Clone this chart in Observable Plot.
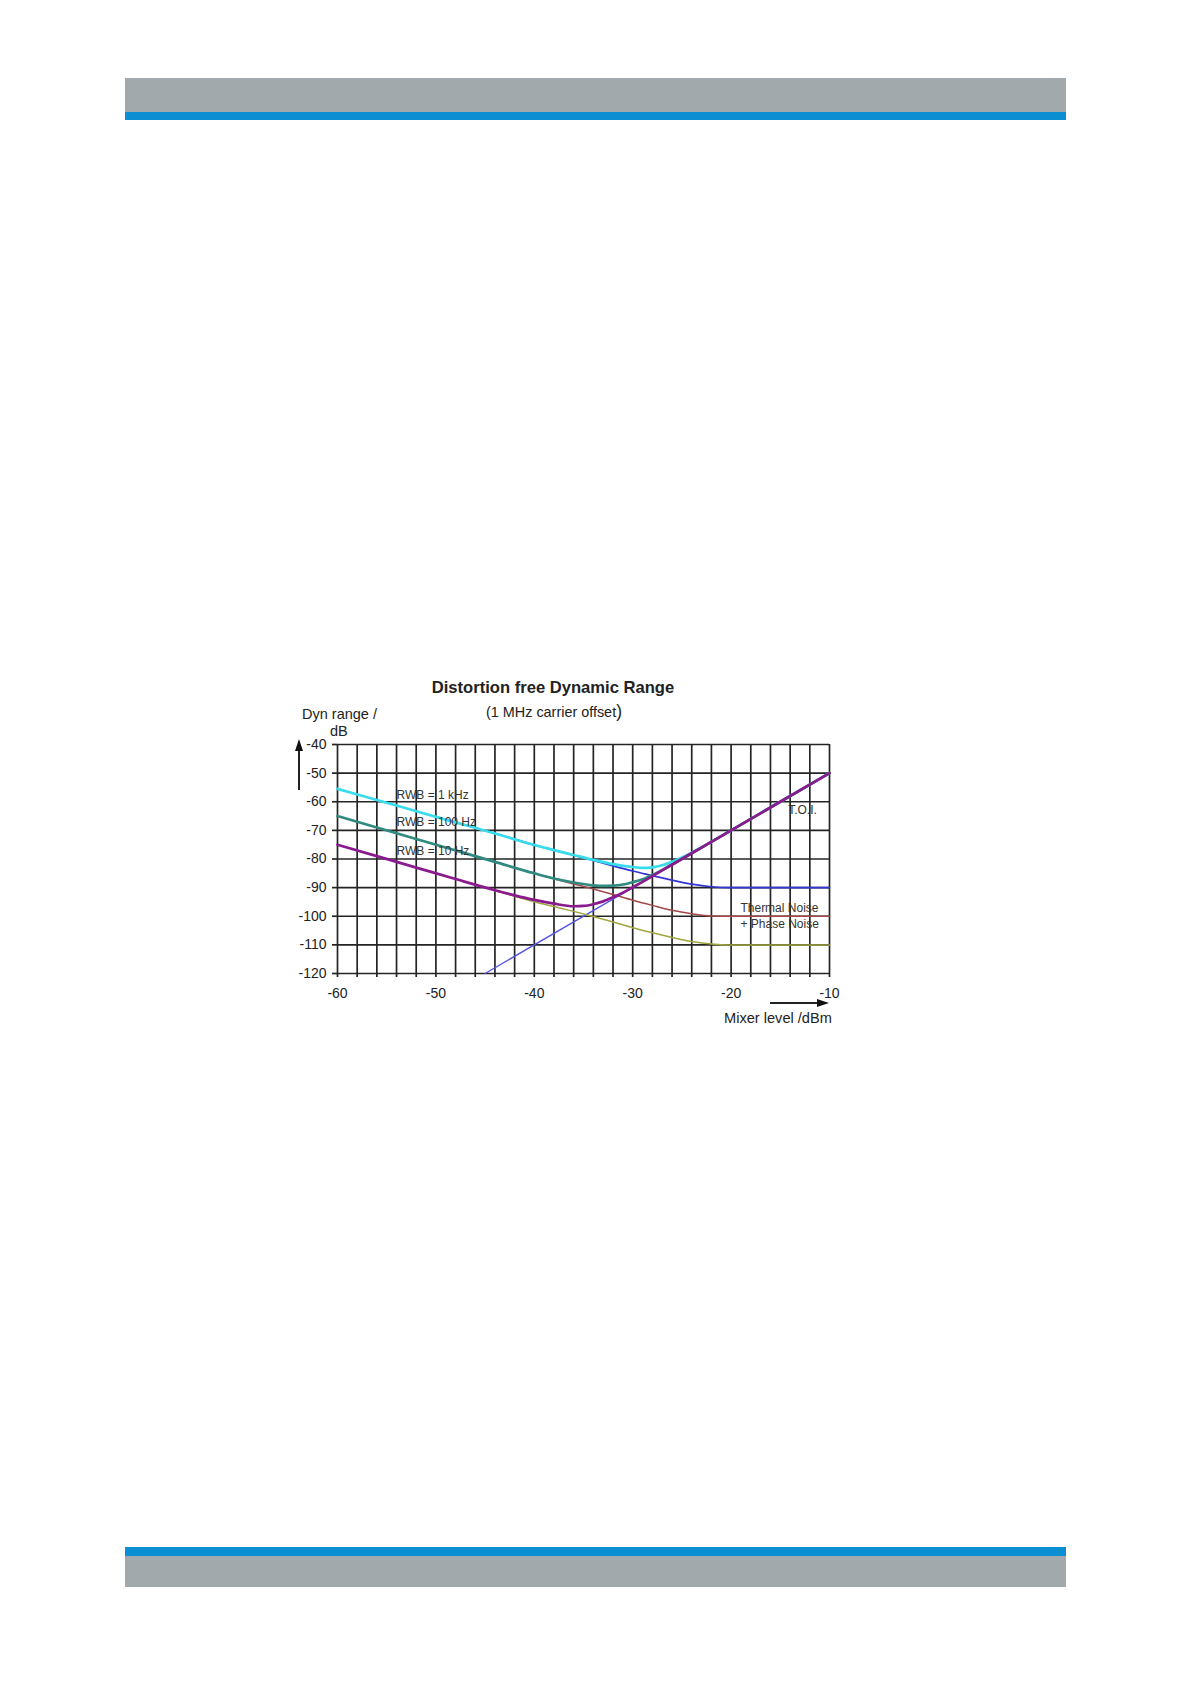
<!DOCTYPE html>
<html>
<head>
<meta charset="utf-8">
<script src="https://cdn.jsdelivr.net/npm/d3@7"></script>
<script src="https://cdn.jsdelivr.net/npm/@observablehq/plot@0.6"></script>
<style>
  html, body { margin: 0; padding: 0; background: #fff; }
  body { width: 1191px; height: 1684px; position: relative; font-family: "Liberation Sans", Arial, sans-serif; color: #222; }
  .abs { position: absolute; white-space: nowrap; }
</style>
</head>
<body>
<div class="abs" style="left:125px;top:78px;width:941px;height:34px;background:#a2a9ad"></div>
<div class="abs" style="left:125px;top:112px;width:941px;height:8px;background:#0b8fd2"></div>
<div class="abs" style="left:125px;top:1547px;width:941px;height:9px;background:#0b8fd2"></div>
<div class="abs" style="left:125px;top:1556px;width:941px;height:31px;background:#a2a9ad"></div>

<div id="title" class="abs" style="left:353px;top:678px;width:400px;text-align:center;font-weight:bold;font-size:16.6px;line-height:20px;"></div>
<div id="subtitle" class="abs" style="left:404px;top:702px;width:300px;text-align:center;font-size:14.4px;line-height:18px;"></div>
<div id="ylab1" class="abs" style="left:302px;top:705px;font-size:14.5px;line-height:18px;"></div>
<div id="ylab2" class="abs" style="left:330px;top:722px;font-size:14.5px;line-height:18px;"></div>
<div id="xlab" class="abs" style="left:724px;top:1009px;font-size:14.6px;line-height:18px;"></div>

<!-- axis arrows -->
<div class="abs" style="left:298px;top:750px;width:1.5px;height:40px;background:#222"></div>
<div class="abs" style="left:295px;top:739px;width:0;height:0;border-left:4px solid transparent;border-right:4px solid transparent;border-bottom:12px solid #111"></div>
<div class="abs" style="left:770px;top:1002px;width:48px;height:1.5px;background:#222"></div>
<div class="abs" style="left:817px;top:999px;width:0;height:0;border-top:4px solid transparent;border-bottom:4px solid transparent;border-left:12px solid #111"></div>

<div id="chart" class="abs" style="left:280px;top:670px;"></div>

<script>
// ---- texts ----
const titleText = "Distortion free Dynamic Range";
const subtitleText = "(1 MHz carrier offset";
const yLabelLines = ["Dyn range /", "dB"];
const xLabelText = "Mixer level /dBm";

// ---- axes ----
const xDomain = [-60, -10];
const yDomain = [-120, -40];
const xMajorTicks = [-60, -50, -40, -30, -20, -10];
const xGridLines = [-60, -58, -56, -54, -52, -50, -48, -46, -44, -42, -40, -38, -36, -34, -32, -30, -28, -26, -24, -22, -20, -18, -16, -14, -12, -10];
const yTicks = [-40, -50, -60, -70, -80, -90, -100, -110, -120];

// ---- series (mixer level dBm, dyn range dB) ----
const toiLine = [[-45, -120], [-10, -50]];

const noise1kHz = [[-44, -71], [-40, -75.1], [-38, -76.9], [-36, -78.7], [-34, -80.5], [-32, -82.4], [-30, -84.2], [-28, -85.8], [-26, -87.4], [-24, -88.8], [-22, -89.7], [-20, -90], [-10, -90]];
const noise100Hz = [[-44, -81], [-40, -85], [-38, -86.9], [-36, -88.7], [-34, -90.5], [-32, -92.4], [-30, -94.4], [-28, -96.2], [-26, -97.9], [-24, -99.1], [-22, -99.9], [-20, -100], [-10, -100]];
const noise10Hz = [[-44, -91], [-42, -93], [-40, -94.9], [-38, -96.6], [-36, -98.3], [-34, -100.1], [-32, -102], [-30, -104], [-28, -105.8], [-26, -107.4], [-24, -108.8], [-22, -109.7], [-20, -110], [-10, -110]];

const rbw1kHz = [[-60, -55.5], [-56, -59.4], [-52, -63.3], [-48, -67.2], [-44, -71.1], [-40, -75.1], [-38, -76.9], [-36, -78.6], [-34, -80.3], [-32, -81.8], [-30, -82.8], [-29, -83.1], [-28, -82.9], [-27, -82.2], [-26, -81], [-24, -77.8], [-22, -74], [-20, -70], [-10, -50]];
const rbw100Hz = [[-60, -65], [-56, -69], [-52, -73], [-48, -77], [-44, -81], [-40, -85], [-38, -86.8], [-36, -88.2], [-34, -89.2], [-33, -89.4], [-32, -89.3], [-31, -88.9], [-30, -88.1], [-29, -87.1], [-28, -85.6], [-26, -81.9], [-24, -78], [-22, -74], [-10, -50]];
const rbw10Hz = [[-60, -75], [-56, -79], [-52, -83], [-48, -87], [-44, -90.9], [-42, -92.7], [-40, -94.3], [-38, -95.6], [-36, -96.5], [-35, -96.4], [-34, -95.8], [-33, -94.8], [-32, -93.4], [-31, -91.8], [-30, -89.9], [-29, -88], [-28, -86], [-26, -82], [-24, -78], [-20, -70], [-10, -50]];

// ---- annotations ----
const rbwLabels = [
  {x: -54, y: -57.8, t: "RWB = 1 kHz"},
  {x: -54, y: -67.1, t: "RWB = 100 Hz"},
  {x: -54, y: -77.4, t: "RWB = 10 Hz"}
];
const noteLabels = [
  {x: -14.2, y: -63.1, t: "T.O.I."},
  {x: -19.05, y: -97.2, t: "Thermal Noise"},
  {x: -19.05, y: -102.6, t: "+ Phase Noise"}
];

document.getElementById("title").textContent = titleText;
document.getElementById("subtitle").innerHTML = subtitleText + '<span style="font-size:17.5px">)</span>';
document.getElementById("ylab1").textContent = yLabelLines[0];
document.getElementById("ylab2").textContent = yLabelLines[1];
document.getElementById("xlab").textContent = xLabelText;

const px = d => d[0], py = d => d[1];
const gridColor = "#242424";

const chart = Plot.plot({
  width: 580,
  height: 370,
  marginLeft: 57,
  marginRight: 31,
  marginTop: 74,
  marginBottom: 67,
  style: {background: "transparent", fontFamily: "Liberation Sans, Arial, sans-serif", color: "#222"},
  x: {domain: xDomain},
  y: {domain: yDomain},
  marks: [
    Plot.ruleX(xGridLines, {stroke: gridColor, strokeWidth: 1.7}),
    Plot.ruleY(yTicks, {stroke: gridColor, strokeWidth: 1.7}),
    Plot.axisY({ticks: yTicks, tickSize: 5, tickPadding: 6, fontSize: 14, stroke: gridColor, strokeWidth: 1.7, tickFormat: d => String(d), label: null}),
    Plot.axisX({ticks: xGridLines, tickSize: 4, stroke: gridColor, strokeWidth: 1.7, tickFormat: () => "", label: null}),
    Plot.axisX({ticks: xMajorTicks, tickSize: 0, tickPadding: 15, fontSize: 14, tickFormat: d => String(d), label: null}),
    Plot.line(toiLine, {x: px, y: py, stroke: "#5454e6", strokeWidth: 1.4}),
    Plot.line(noise10Hz, {x: px, y: py, stroke: "#a0a640", strokeWidth: 1.5, curve: "monotone-x"}),
    Plot.line(noise100Hz, {x: px, y: py, stroke: "#a24848", strokeWidth: 1.5, curve: "monotone-x"}),
    Plot.line(noise1kHz, {x: px, y: py, stroke: "#3434d6", strokeWidth: 1.7, curve: "monotone-x"}),
    Plot.line(rbw1kHz, {x: px, y: py, stroke: "#38dced", strokeWidth: 2.7, curve: "monotone-x"}),
    Plot.line(rbw100Hz, {x: px, y: py, stroke: "#2f8a80", strokeWidth: 2.7, curve: "monotone-x"}),
    Plot.line(rbw10Hz, {x: px, y: py, stroke: "#8a1a8e", strokeWidth: 2.7, curve: "monotone-x"}),
    Plot.text(rbwLabels, {x: "x", y: "y", text: "t", textAnchor: "start", fontSize: 12, fill: "#333"}),
    Plot.text(noteLabels, {x: "x", y: "y", text: "t", textAnchor: "start", fontSize: 12, fill: "#333"})
  ]
});
document.getElementById("chart").appendChild(chart);
</script>
</body>
</html>
